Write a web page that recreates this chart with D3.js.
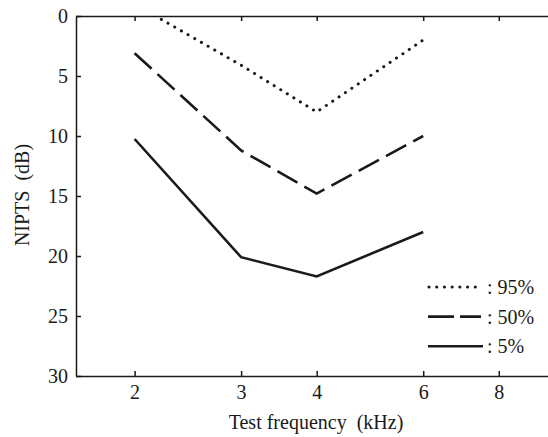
<!DOCTYPE html>
<html>
<head>
<meta charset="utf-8">
<script src="https://cdn.jsdelivr.net/npm/d3@7"></script>
<style>
    body { margin: 0; background: #fff; overflow: hidden; }
    svg { display: block; }
    .axis text { font-family: "Liberation Serif", "DejaVu Serif", serif; font-size: 20px; }
    .label { font-family: "Liberation Serif", "DejaVu Serif", serif; font-size: 20px; white-space: pre; }
</style>
</head>
<body>
<svg id="chart"></svg>
<script>
// data
const frequencies = [2, 3, 4, 6];
const tickFreqs = [2, 3, 4, 6, 8];
const yTicks = [0, 5, 10, 15, 20, 25, 30];
const p95 = [-1.0, 4.1, 8.0, 2.0];
const p50 = [3.1, 11.2, 14.8, 10.0];
const p5 = [10.25, 20.1, 21.7, 18.0];
const seriesNames = [": 95%", ": 50%", ": 5%"];

const ink = "#1a1a1a";
const width = 548, height = 437;
const margin = { left: 76, top: 16, right: -12, bottom: 61 };

const svg = d3.select("#chart")
    .attr("width", width)
    .attr("height", height);

// frequency axis is logarithmic (octave spacing)
const xScale = d3.scaleLog().base(2)
    .domain([1.6, 10.1])
    .range([margin.left, width - margin.right]);
const yScale = d3.scaleLinear()
    .domain([0, 30])
    .range([margin.top, height - margin.bottom]);

// axes, ticks pointing inward
const gBottom = svg.append("g")
    .attr("class", "axis")
    .attr("transform", `translate(0,${height - margin.bottom})`)
    .call(d3.axisBottom(xScale).tickValues(tickFreqs).tickFormat(d3.format("d"))
        .tickSizeInner(-5).tickSizeOuter(0).tickPadding(9));

const gTop = svg.append("g")
    .attr("class", "axis")
    .attr("transform", `translate(0,${margin.top})`)
    .call(d3.axisTop(xScale).tickValues(tickFreqs).tickFormat("")
        .tickSizeInner(-5).tickSizeOuter(0));

const gLeft = svg.append("g")
    .attr("class", "axis")
    .attr("transform", `translate(${margin.left},0)`)
    .call(d3.axisLeft(yScale).tickValues(yTicks)
        .tickSizeInner(-5).tickSizeOuter(0).tickPadding(8));

[gBottom, gTop, gLeft].forEach(g => {
    g.selectAll("path,line").attr("stroke", ink).attr("stroke-width", 1.5);
    g.selectAll("text").attr("fill", ink);
});

// nested svg clips the lines to the plot area
const plotW = width - margin.right - margin.left;
const plotH = height - margin.bottom - margin.top;
const plot = svg.append("svg")
    .attr("x", margin.left)
    .attr("y", margin.top)
    .attr("width", plotW)
    .attr("height", plotH)
    .attr("viewBox", `${margin.left} ${margin.top} ${plotW} ${plotH}`)
    .style("overflow", "hidden");

const styles = [
    { dash: "0.1,7.6", cap: "round", width: 3 },
    { dash: "23,8", cap: "butt", width: 2.6 },
    { dash: null, cap: "butt", width: 2.6 }
];
const seriesData = [p95, p50, p5];

const myLine = d3.line()
    .x(d => xScale(d.f))
    .y(d => yScale(d.v));

seriesData.forEach((vals, i) => {
    const pts = frequencies.map((f, j) => ({ f: f, v: vals[j] }));
    plot.append("path")
        .datum(pts)
        .attr("d", myLine)
        .attr("fill", "none")
        .attr("stroke", ink)
        .attr("stroke-width", styles[i].width)
        .attr("stroke-linecap", styles[i].cap)
        .attr("stroke-dasharray", styles[i].dash);
});

// legend
const legend = svg.append("g").attr("transform", "translate(428,287)");
seriesNames.forEach((name, i) => {
    const g = legend.append("g").attr("transform", `translate(0,${i * 29.6})`);
    g.append("line")
        .attr("x1", i === 0 ? 1 : 0).attr("x2", i === 0 ? 49 : (i === 1 ? 53 : 55))
        .attr("y1", 0).attr("y2", 0)
        .attr("stroke", ink)
        .attr("stroke-width", styles[i].width)
        .attr("stroke-linecap", styles[i].cap)
        .attr("stroke-dasharray", i === 1 ? "26,6" : styles[i].dash);
    g.append("text")
        .attr("class", "label")
        .attr("x", 59)
        .attr("y", 7)
        .attr("fill", ink)
        .text(name);
});

// axis titles
svg.append("text")
    .attr("class", "label")
    .attr("x", 316)
    .attr("y", 429)
    .attr("text-anchor", "middle")
    .attr("fill", ink)
    .text("Test frequency  (kHz)");

svg.append("text")
    .attr("class", "label")
    .attr("transform", "translate(29,195) rotate(-90)")
    .attr("text-anchor", "middle")
    .attr("fill", ink)
    .text("NIPTS  (dB)");
</script>
</body>
</html>
